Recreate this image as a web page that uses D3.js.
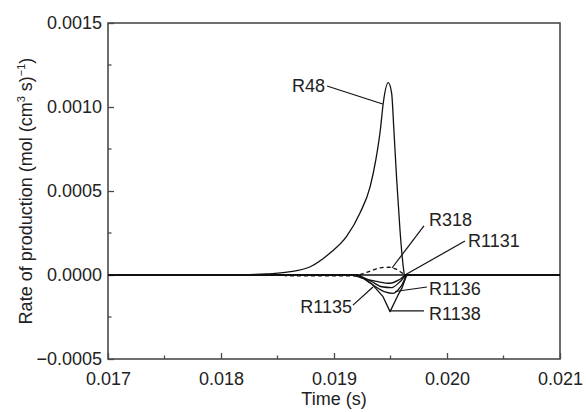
<!DOCTYPE html>
<html>
<head>
<meta charset="utf-8">
<script src="https://cdn.jsdelivr.net/npm/d3@7/dist/d3.min.js"></script>
<style>
  html, body { margin: 0; padding: 0; background: #fff; }
  svg text { font-family: "Liberation Sans", Arial, sans-serif; fill: #222; }
</style>
</head>
<body>
<svg id="chart" width="586" height="412"></svg>
<script>
// ---- data ----
const xTicks = [0.017, 0.018, 0.019, 0.020, 0.021];
const yTicks = [-0.0005, 0.0000, 0.0005, 0.0010, 0.0015];
const xMinor = [0.0175, 0.0185, 0.0195, 0.0205];
const yMinor = [-0.00025, 0.00025, 0.00075, 0.00125];

const r48Time = [0.0170, 0.0180, 0.0182, 0.0184, 0.0186, 0.01879, 0.018965, 0.01911, 0.01923, 0.01932, 0.01937, 0.01941, 0.019436, 0.01948, 0.01951, 0.01953, 0.019555, 0.019584, 0.019613, 0.019628, 0.019655, 0.0210];
const r48Rate = [0, 0, 0.000002, 0.000006, 0.000018, 0.000049, 0.000131, 0.000228, 0.000369, 0.000526, 0.000685, 0.000863, 0.001024, 0.001145, 0.001083, 0.000863, 0.000565, 0.000268, 0.000049, -0.000012, 0, 0];

const r318Time = [0.0170, 0.0185, 0.0186, 0.0192, 0.01922, 0.01933, 0.01941, 0.01949, 0.01955, 0.01961, 0.01964, 0.0210];
const r318Rate = [0, 0, -0.000005, -0.000005, 0, 0.000025, 0.000043, 0.000046, 0.000035, 0.00001, 0, 0];

const r1131Time = [0.0170, 0.01915, 0.019257, 0.019389, 0.019496, 0.019584, 0.019643, 0.0210];
const r1131Rate = [0, 0, -0.00002, -0.00004, -0.000049, -0.000025, 0, 0];

const r1135Time = [0.0170, 0.01918, 0.019336, 0.019422, 0.019511, 0.019584, 0.019645, 0.0210];
const r1135Rate = [0, 0, -0.00004, -0.00007, -0.000075, -0.00004, 0, 0];

const r1136Time = [0.0170, 0.0192, 0.019319, 0.019451, 0.019522, 0.0196, 0.01965, 0.0210];
const r1136Rate = [0, 0, -0.000048, -0.0001, -0.000109, -0.00006, 0, 0];

const r1138Time = [0.0170, 0.01921, 0.019257, 0.019336, 0.019434, 0.019496, 0.019566, 0.0196, 0.019643, 0.0210];
const r1138Rate = [0, 0, -0.000018, -0.000054, -0.000129, -0.000218, -0.00012, -0.00008, 0, 0];

const seriesNames = ["R48", "R318", "R1131", "R1135", "R1136", "R1138"];

// ---- layout ----
const svg = d3.select("#chart");
const mLeft = 108, mRight = 560, mTop = 23, mBottom = 359;

const x = d3.scaleLinear().domain([0.017, 0.021]).range([mLeft, mRight]);
const y = d3.scaleLinear().domain([-0.0005, 0.0015]).range([mBottom, mTop]);

const frameColor = "#4a4a4a";

// frame
svg.append("rect")
  .attr("x", mLeft).attr("y", mTop)
  .attr("width", mRight - mLeft).attr("height", mBottom - mTop)
  .attr("fill", "none").attr("stroke", frameColor).attr("stroke-width", 1.6);

// axes (inward ticks)
const xAxis = d3.axisBottom(x).tickValues(xTicks).tickFormat(d3.format(".3f"))
  .tickSizeInner(-6).tickSizeOuter(0).tickPadding(13);
const gx = svg.append("g").attr("transform", `translate(0,${mBottom})`).call(xAxis);
gx.select(".domain").remove();
gx.selectAll("line").attr("stroke", frameColor).attr("stroke-width", 1.3);
gx.selectAll("text").attr("font-size", 18).attr("fill", "#222");

const yAxis = d3.axisLeft(y).tickValues(yTicks).tickFormat(d3.format(".4f"))
  .tickSizeInner(-6).tickSizeOuter(0).tickPadding(6);
const gy = svg.append("g").attr("transform", `translate(${mLeft},0)`).call(yAxis);
gy.select(".domain").remove();
gy.selectAll("line").attr("stroke", frameColor).attr("stroke-width", 1.3);
gy.selectAll("text").attr("font-size", 18).attr("fill", "#222");

// minor ticks
svg.append("g").selectAll("line").data(xMinor).join("line")
  .attr("x1", d => x(d)).attr("x2", d => x(d))
  .attr("y1", mBottom).attr("y2", mBottom - 3.5)
  .attr("stroke", frameColor).attr("stroke-width", 1.3);
svg.append("g").selectAll("line").data(yMinor).join("line")
  .attr("y1", d => y(d)).attr("y2", d => y(d))
  .attr("x1", mLeft).attr("x2", mLeft + 3.5)
  .attr("stroke", frameColor).attr("stroke-width", 1.3);

// axis titles
svg.append("text")
  .attr("x", (mLeft + mRight) / 2).attr("y", 405)
  .attr("text-anchor", "middle").attr("font-size", 18)
  .text("Time (s)");

const yt = svg.append("text")
  .attr("transform", `translate(32,${(mTop + mBottom) / 2}) rotate(-90)`)
  .attr("text-anchor", "middle").attr("font-size", 18);
yt.append("tspan").text("Rate of production (mol (cm");
yt.append("tspan").attr("font-size", 11).attr("dy", -7).text("3");
yt.append("tspan").attr("dy", 7).text(" s)");
yt.append("tspan").attr("font-size", 11).attr("dy", -7).text("\u22121");
yt.append("tspan").attr("dy", 7).text(")");

// zero line
svg.append("line")
  .attr("x1", mLeft).attr("x2", mRight)
  .attr("y1", y(0)).attr("y2", y(0))
  .attr("stroke", "#111").attr("stroke-width", 1.3);

// series
svg.append("clipPath").attr("id", "clip")
  .append("rect").attr("x", mLeft).attr("y", mTop).attr("width", mRight - mLeft).attr("height", mBottom - mTop);

function drawSeries(times, rates, curve, dash) {
  const pts = times.map((t, i) => [t, rates[i]]);
  const line = d3.line().x(d => x(d[0])).y(d => y(d[1])).curve(curve);
  svg.append("path").datum(pts)
    .attr("d", line)
    .attr("fill", "none")
    .attr("stroke", "#111")
    .attr("stroke-width", 1.3)
    .attr("stroke-linejoin", "round")
    .attr("stroke-dasharray", dash || null)
    .attr("clip-path", "url(#clip)");
}
drawSeries(r1131Time, r1131Rate, d3.curveMonotoneX);
drawSeries(r1135Time, r1135Rate, d3.curveMonotoneX);
drawSeries(r1136Time, r1136Rate, d3.curveMonotoneX);
drawSeries(r1138Time, r1138Rate, d3.curveLinear);
drawSeries(r318Time, r318Rate, d3.curveMonotoneX, "4,3");
drawSeries(r48Time, r48Rate, d3.curveMonotoneX);

// annotations
const notes = [
  { name: seriesNames[0], tx: 0.018920, tv: 0.001089, anchor: "end",   x1: 0.018938, v1: 0.001125, x2: 0.019431, v2: 0.001018 },
  { name: seriesNames[1], tx: 0.019841, tv: 0.000292, anchor: "start", x1: 0.019796, v1: 0.000292, x2: 0.019513, v2: 0.0000417 },
  { name: seriesNames[2], tx: 0.020186, tv: 0.000167, anchor: "start", x1: 0.020159, v1: 0.000202, x2: 0.019628, v2: 0.0 },
  { name: seriesNames[3], tx: 0.019159, tv: -0.000226, anchor: "end",  x1: 0.019168, v1: -0.000179, x2: 0.019345, v2: -0.0000714 },
  { name: seriesNames[4], tx: 0.019841, tv: -0.000119, anchor: "start", x1: 0.019823, v1: -0.0000714, x2: 0.019540, v2: -0.0000982 },
  { name: seriesNames[5], tx: 0.019841, tv: -0.000268, anchor: "start", x1: 0.019796, v1: -0.000214, x2: 0.019496, v2: -0.000214 }
];
notes.forEach(n => {
  svg.append("line")
    .attr("x1", x(n.x1)).attr("y1", y(n.v1))
    .attr("x2", x(n.x2)).attr("y2", y(n.v2))
    .attr("stroke", "#111").attr("stroke-width", 1.2);
  svg.append("text")
    .attr("x", x(n.tx)).attr("y", y(n.tv))
    .attr("text-anchor", n.anchor).attr("font-size", 18)
    .text(n.name);
});
</script>
</body>
</html>
